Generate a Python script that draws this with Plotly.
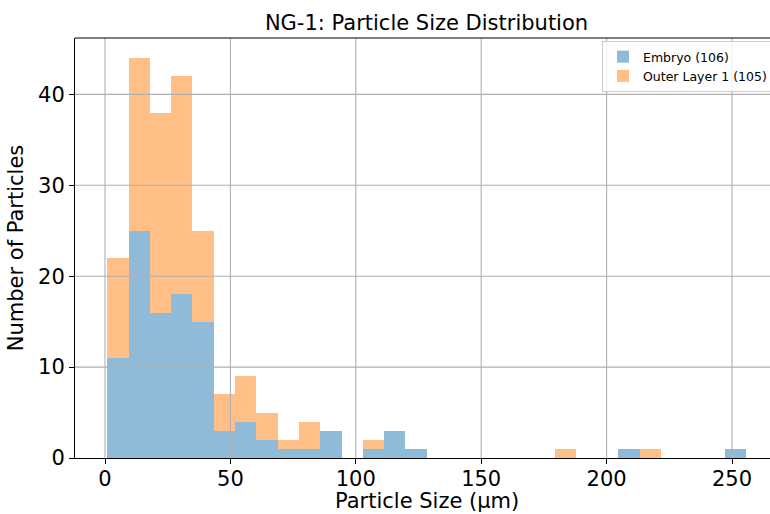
import numpy as np
import plotly.graph_objects as go

# ---- data ----
size_min = 0.9      # smallest particle size (µm), left edge of first bin
size_max = 255.7    # largest particle size (µm), right edge of last bin
n_bins = 30

embryo_counts = [11, 25, 16, 18, 15, 3, 4, 2, 1, 1, 3, 0, 1, 3, 1,
                 0, 0, 0, 0, 0, 0, 0, 0, 0, 1, 0, 0, 0, 0, 1]
outer_counts = [11, 19, 22, 24, 10, 4, 5, 3, 1, 3, 0, 0, 1, 0, 0,
                0, 0, 0, 0, 0, 0, 1, 0, 0, 0, 1, 0, 0, 0, 0]

embryo_name = "Embryo (106)"
outer_name = "Outer Layer 1 (105)"

x_ticks = [0, 50, 100, 150, 200, 250]
y_ticks = [0, 10, 20, 30, 40]

title_text = "NG-1: Particle Size Distribution"
x_title = "Particle Size (µm)"
y_title = "Number of Particles"

# ---- build ----
edges = np.linspace(size_min, size_max, n_bins + 1)
centers = (edges[:-1] + edges[1:]) / 2
widths = np.diff(edges)

FONT = "DejaVu Sans"
BLUE = "#8FBBD9"
ORANGE = "#FFBF86"
GRID = "#b0b0b0"

W, H = 770, 514

fig = go.Figure()
fig.add_trace(go.Bar(x=centers, y=embryo_counts, width=widths, name=embryo_name,
                     marker=dict(color=BLUE, line=dict(width=0))))
fig.add_trace(go.Bar(x=centers, y=outer_counts, width=widths, name=outer_name,
                     marker=dict(color=ORANGE, line=dict(width=0))))

shapes = []
for t in x_ticks:
    shapes.append(dict(type="line", xref="x", yref="paper", x0=t, x1=t, y0=0, y1=1,
                       line=dict(color=GRID, width=1.1), layer="above"))
for t in y_ticks[1:]:
    shapes.append(dict(type="line", xref="paper", yref="y", x0=0, x1=1, y0=t, y1=t,
                       line=dict(color=GRID, width=1.1), layer="above"))
# top spine (matplotlib frame; right spine lies outside the visible area)
shapes.append(dict(type="line", xref="paper", yref="paper", x0=0, x1=1, y0=1, y1=1,
                   line=dict(color="black", width=1.1), layer="above"))

fig.update_layout(
    width=W, height=H,
    margin=dict(l=75, r=0, t=38, b=56, autoexpand=False),
    paper_bgcolor="white", plot_bgcolor="white",
    barmode="stack", bargap=0,
    font=dict(family=FONT, size=21, color="black"),
    title=dict(text=title_text, x=426.5 / W, xanchor="center", xref="container",
               y=1 - 23 / H, yanchor="middle", font=dict(size=21)),
    showlegend=True,
    legend=dict(x=(602 - 75) / 695, y=1 - (41 - 38) / 420, xanchor="left", yanchor="top",
                font=dict(size=12.5), bgcolor="rgba(255,255,255,0.8)",
                bordercolor="#cccccc", borderwidth=1, tracegroupgap=0,
                itemwidth=30, traceorder="normal"),
    shapes=shapes,
    annotations=[dict(text=x_title, xref="paper", yref="paper",
                      x=(426.5 - 75) / 695, y=-(501 - 458) / 420,
                      xanchor="center", yanchor="middle", showarrow=False,
                      font=dict(size=21))],
)

fig.update_xaxes(range=[-11.96, 265.15], tickvals=x_ticks, showgrid=False, zeroline=False,
                 showline=True, linecolor="black", linewidth=1.1, mirror=False,
                 ticks="outside", ticklen=5, tickwidth=1.1, tickcolor="black",
                 tickfont=dict(size=21), automargin=False, ticklabelstandoff=-3)
fig.update_yaxes(range=[0, 46.2], tickvals=y_ticks, showgrid=False, zeroline=False,
                 showline=True, linecolor="black", linewidth=1.1, mirror=False,
                 ticks="outside", ticklen=5, tickwidth=1.1, tickcolor="black",
                 tickfont=dict(size=21), automargin=False,
                 title=dict(text=y_title, font=dict(size=21), standoff=8))

fig.write_html(
    "out.html",
    config={"displayModeBar": False},
    post_script="document.body.style.margin='0';document.body.style.overflow='hidden';",
)
